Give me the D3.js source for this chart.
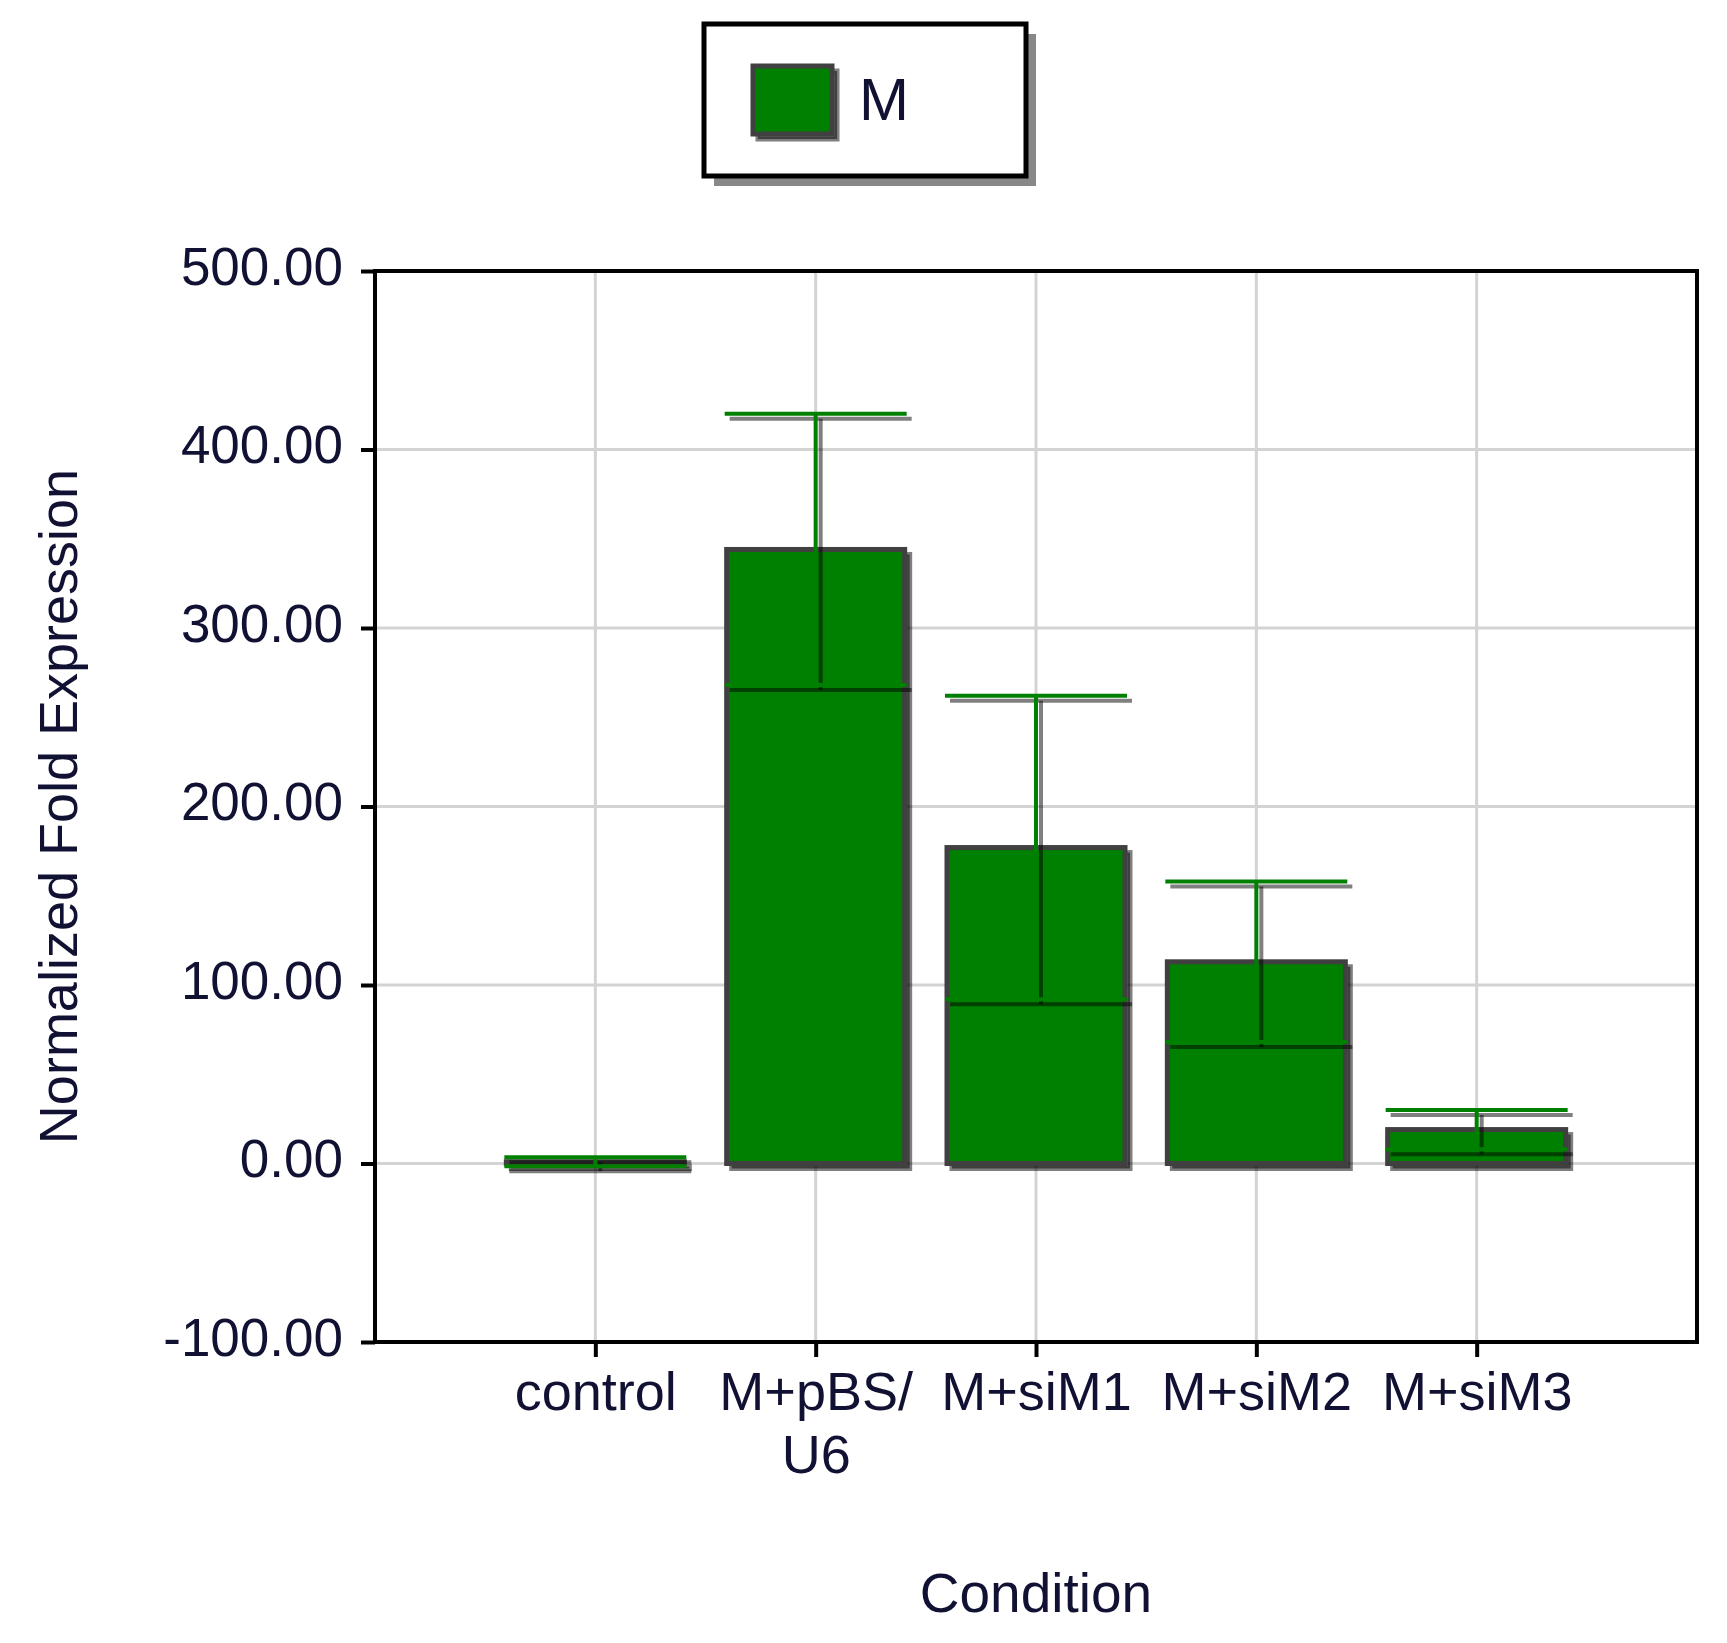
<!DOCTYPE html>
<html>
<head>
<meta charset="utf-8">
<script src="https://cdn.jsdelivr.net/npm/d3@7"></script>
<style>
  body { margin: 0; background: #fff; }
  text { font-family: "Liberation Sans", Arial, sans-serif; fill: #111133; }
</style>
</head>
<body>
<div id="chart"></div>
<script>
// data
var categories = ["control", "M+pBS/U6", "M+siM1", "M+siM2", "M+siM3"];
var tickLines = [["control"], ["M+pBS/", "U6"], ["M+siM1"], ["M+siM2"], ["M+siM3"]];
var values = [1, 344, 177, 113, 19];
var errors = [2.5, 76, 85, 45, 11];
var yTicks = [-100, 0, 100, 200, 300, 400, 500];
var seriesName = "M";

var svgWidth = 1727;
var svgHeight = 1643;
var margin = { top: 271, right: 30, bottom: 301, left: 375 };
var width = svgWidth - margin.left - margin.right;
var height = svgHeight - margin.top - margin.bottom;

var green = "#008000";
var shadow = "rgba(0,0,0,0.5)";

var svg = d3.select("#chart")
    .append("svg")
    .attr("width", svgWidth)
    .attr("height", svgHeight);

var plot = svg.append("g")
    .attr("transform", "translate(" + margin.left + "," + margin.top + ")");

var x = d3.scalePoint().domain(categories).range([0, width]).padding(1);
var y = d3.scaleLinear().domain([-100, 500]).range([height, 0]);

// grid
plot.append("g").selectAll("line.h")
    .data(yTicks).enter().append("line")
    .attr("x1", 0).attr("x2", width)
    .attr("y1", function (d) { return y(d); })
    .attr("y2", function (d) { return y(d); })
    .attr("stroke", "#d3d3d3").attr("stroke-width", 3);
plot.append("g").selectAll("line.v")
    .data(categories).enter().append("line")
    .attr("x1", function (d) { return x(d); })
    .attr("x2", function (d) { return x(d); })
    .attr("y1", 0).attr("y2", height)
    .attr("stroke", "#d3d3d3").attr("stroke-width", 3);

// bars
var barW = 178;
var bars = plot.append("g").selectAll("g")
    .data(categories).enter().append("g");

bars.append("rect")
    .attr("x", function (d) { return x(d) - barW / 2 + 5; })
    .attr("y", function (d, i) { return y(values[i]) + 5; })
    .attr("width", barW)
    .attr("height", function (d, i) { return y(0) - y(values[i]); })
    .attr("fill", shadow)
    .attr("stroke", shadow)
    .attr("stroke-width", 5);

bars.append("rect")
    .attr("x", function (d) { return x(d) - barW / 2; })
    .attr("y", function (d, i) { return y(values[i]); })
    .attr("width", barW)
    .attr("height", function (d, i) { return y(0) - y(values[i]); })
    .attr("fill", green)
    .attr("stroke", "#404040")
    .attr("stroke-width", 5);

// error bars: shadow first, then green
function errorBars(offset, color) {
    var g = plot.append("g").attr("transform", "translate(" + offset + "," + offset + ")");
    categories.forEach(function (c, i) {
        var cx = x(c);
        var hi = y(values[i] + errors[i]);
        var lo = y(values[i] - errors[i]);
        g.append("line")
            .attr("x1", cx).attr("x2", cx)
            .attr("y1", hi).attr("y2", lo)
            .attr("stroke", color).attr("stroke-width", 4);
        [hi, lo].forEach(function (yy) {
            g.append("line")
                .attr("x1", cx - barW / 2 - 2).attr("x2", cx + barW / 2 + 2)
                .attr("y1", yy).attr("y2", yy)
                .attr("stroke", color).attr("stroke-width", 4);
        });
    });
}
errorBars(5, shadow);
errorBars(0, green);

// frame
plot.append("rect")
    .attr("width", width).attr("height", height)
    .attr("fill", "none").attr("stroke", "#000").attr("stroke-width", 4);

// axes
var yAxis = d3.axisLeft(y)
    .tickValues(yTicks)
    .tickSize(14)
    .tickPadding(18)
    .tickFormat(function (d) { return d.toFixed(2); });
var yG = plot.append("g").call(yAxis);
yG.select(".domain").remove();
yG.selectAll("line").attr("stroke", "#000").attr("stroke-width", 4);
yG.selectAll("text")
    .attr("font-size", 53)
    .attr("dy", "0.25em")
    .attr("fill", "#111133")
    .style("font-family", "'Liberation Sans', Arial, sans-serif");

var xAxis = d3.axisBottom(x).tickSize(15);
var xG = plot.append("g")
    .attr("transform", "translate(0," + height + ")")
    .call(xAxis);
xG.select(".domain").remove();
xG.selectAll("line").attr("stroke", "#000").attr("stroke-width", 4);
xG.selectAll("text").each(function (d, i) {
    var t = d3.select(this).text(null)
        .attr("y", 68).attr("dy", null)
        .attr("font-size", 54)
        .attr("fill", "#111133")
        .style("font-family", "'Liberation Sans', Arial, sans-serif");
    tickLines[i].forEach(function (line, k) {
        t.append("tspan").attr("x", 0).attr("dy", k === 0 ? 0 : 63).text(line);
    });
});

// axis titles
svg.append("text")
    .attr("x", margin.left + width / 2)
    .attr("y", 1612)
    .attr("text-anchor", "middle")
    .attr("font-size", 55)
    .text("Condition");

svg.append("text")
    .attr("transform", "translate(77," + (margin.top + height / 2) + ") rotate(-90)")
    .attr("text-anchor", "middle")
    .attr("font-size", 54)
    .text("Normalized Fold Expression");

// legend
var legend = svg.append("g");
legend.append("rect")
    .attr("x", 714).attr("y", 34).attr("width", 322).attr("height", 152)
    .attr("fill", "#888");
legend.append("rect")
    .attr("x", 704).attr("y", 24).attr("width", 322).attr("height", 152)
    .attr("fill", "#fff").attr("stroke", "#000").attr("stroke-width", 5);
legend.append("rect")
    .attr("x", 758).attr("y", 71).attr("width", 79).attr("height", 68)
    .attr("fill", shadow).attr("stroke", shadow).attr("stroke-width", 5);
legend.append("rect")
    .attr("x", 753).attr("y", 66).attr("width", 79).attr("height", 68)
    .attr("fill", green).attr("stroke", "#404040").attr("stroke-width", 5);
legend.append("text")
    .attr("x", 859).attr("y", 120)
    .attr("font-size", 60)
    .text(seriesName);
</script>
</body>
</html>
